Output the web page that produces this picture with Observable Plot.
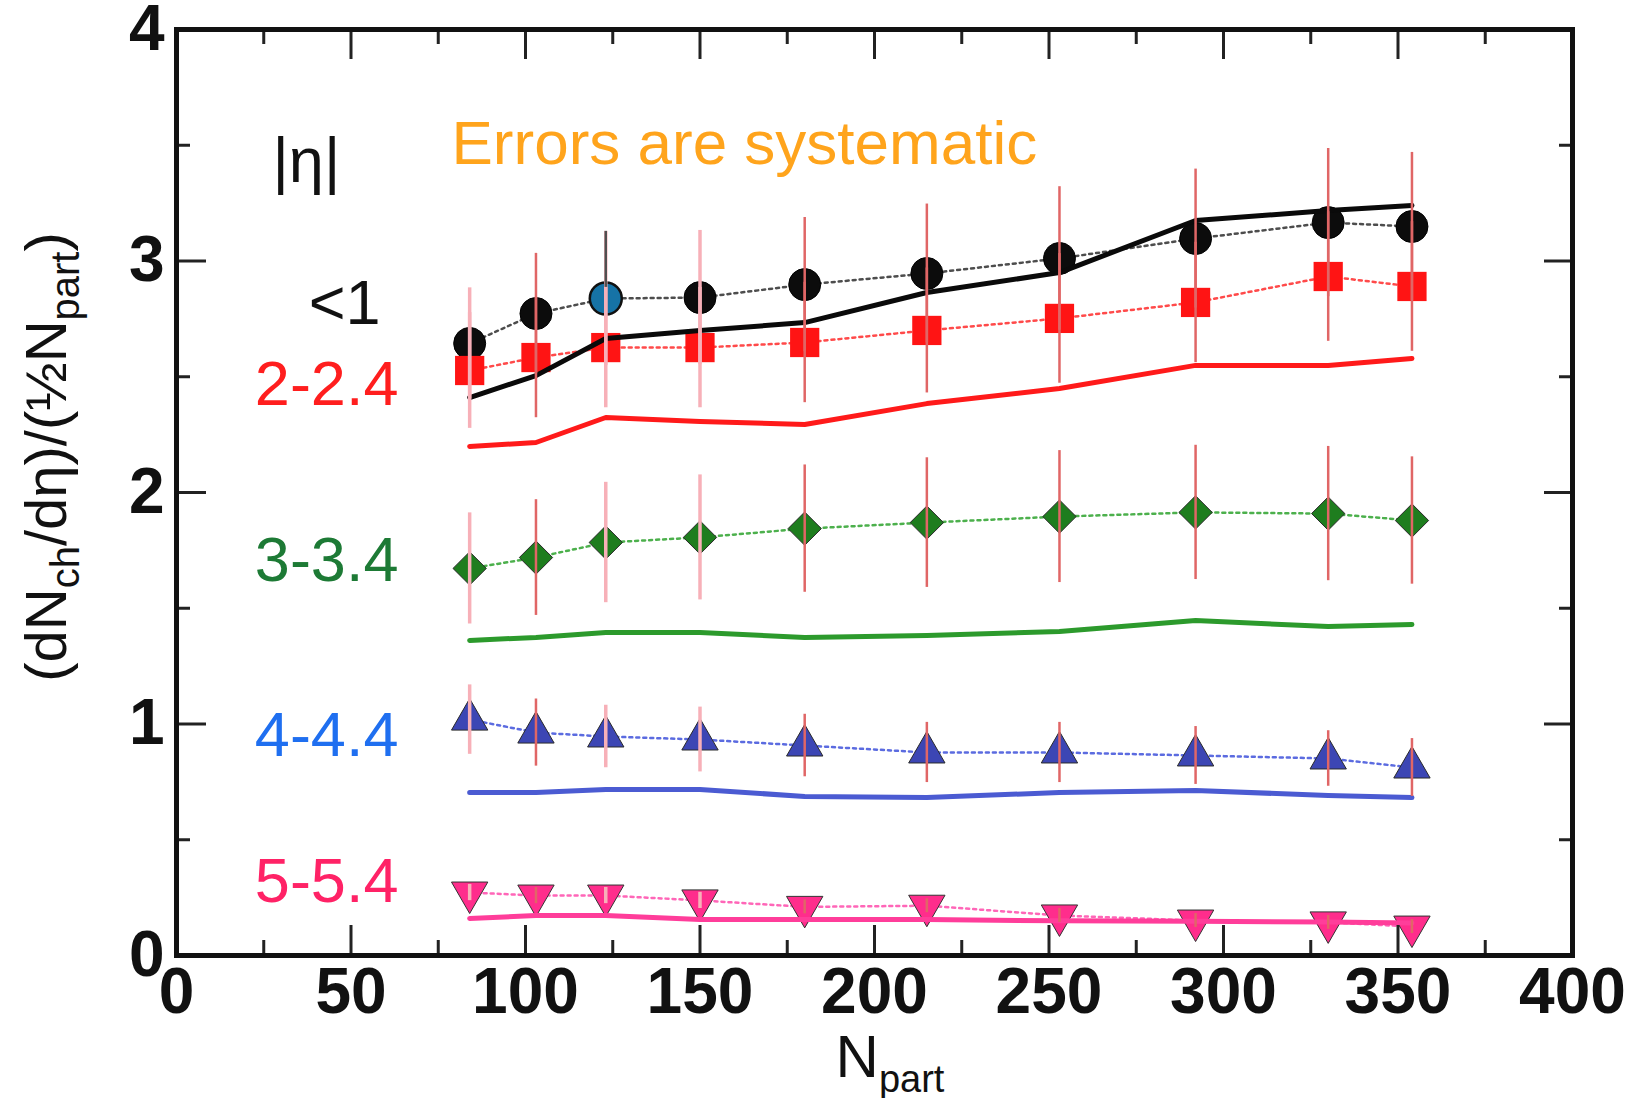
<!DOCTYPE html>
<html>
<head>
<meta charset="utf-8">
<script src="https://cdn.jsdelivr.net/npm/d3@7"></script>
<script src="https://cdn.jsdelivr.net/npm/@observablehq/plot@0.6"></script>
<style>
  html, body { margin: 0; padding: 0; background: #fff; }
  #chart { width: 1636px; height: 1098px; }
</style>
</head>
<body>
<div id="chart"></div>
<script>
// Centrality (number of participants) of each data point
const npart = [84, 103, 123, 150, 180, 215, 253, 292, 330, 354];

// (dNch/dη)/(½Npart) per pseudorapidity window, with systematic errors
const etaLt1    = [2.644, 2.773, 2.838, 2.842, 2.898, 2.946, 3.011, 3.097, 3.166, 3.149];
const etaLt1Err = [0.24, 0.26, 0.29, 0.29, 0.29, 0.30, 0.31, 0.30, 0.32, 0.32];
const eta2      = [2.527, 2.583, 2.626, 2.626, 2.648, 2.700, 2.752, 2.821, 2.933, 2.890];
const eta2Err   = [0.25, 0.26, 0.26, 0.26, 0.26, 0.27, 0.28, 0.26, 0.28, 0.28];
const eta3      = [1.672, 1.719, 1.784, 1.806, 1.844, 1.870, 1.896, 1.914, 1.909, 1.879];
const eta3Err   = [0.24, 0.25, 0.26, 0.27, 0.275, 0.28, 0.285, 0.29, 0.29, 0.275];
const eta4      = [1.019, 0.963, 0.946, 0.933, 0.907, 0.877, 0.877, 0.864, 0.851, 0.812];
const eta4Err   = [0.15, 0.145, 0.135, 0.14, 0.135, 0.13, 0.13, 0.125, 0.12, 0.125];
const eta5      = [0.272, 0.259, 0.259, 0.238, 0.210, 0.215, 0.173, 0.151, 0.143, 0.125];
const eta5Err   = [0.035, 0.035, 0.035, 0.035, 0.03, 0.03, 0.03, 0.03, 0.03, 0.03];

// Model curves at the same centralities
const modelLt1 = [2.41, 2.505, 2.665, 2.70, 2.734, 2.864, 2.950, 3.175, 3.218, 3.240];
const model2   = [2.199, 2.216, 2.324, 2.307, 2.294, 2.384, 2.449, 2.549, 2.549, 2.579];
const model3   = [1.361, 1.374, 1.395, 1.395, 1.374, 1.382, 1.400, 1.447, 1.421, 1.430];
const model4   = [0.704, 0.704, 0.717, 0.717, 0.687, 0.682, 0.704, 0.713, 0.691, 0.682];
const model5   = [0.160, 0.173, 0.173, 0.155, 0.155, 0.155, 0.150, 0.148, 0.145, 0.140];

// Axis ticks
const xTicks = [0, 50, 100, 150, 200, 250, 300, 350, 400];
const xMinor = [25, 75, 125, 175, 225, 275, 325, 375];
const yTicks = [0, 1, 2, 3, 4];
const yMinor = [0.5, 1.5, 2.5, 3.5];

// Point drawn with a distinct fill in the |η|<1 series
const highlightNpart = 123;
// Centralities whose error bars are drawn in the lighter tint
const paleBars = new Set([84, 123, 150]);

const groups = [
  {id: "lt1", y: etaLt1, err: etaLt1Err, model: modelLt1},
  {id: "e2",  y: eta2,   err: eta2Err,   model: model2},
  {id: "e3",  y: eta3,   err: eta3Err,   model: model3},
  {id: "e4",  y: eta4,   err: eta4Err,   model: model4},
  {id: "e5",  y: eta5,   err: eta5Err,   model: model5}
];

const look = {
  lt1: {fill: "#0c0c0c", stroke: "#000", sw: 1, symbol: "circle", r: 16, rotate: 0, dash: "#4d4d4d", line: "#0a0a0a"},
  e2:  {fill: "#ff1414", stroke: "none", sw: 0, symbol: "square", r: 16.5, rotate: 0, dash: "#ff4a4a", line: "#ff1a1a"},
  e3:  {fill: "#1e7d1e", stroke: "#2a2a2a", sw: 1, symbol: "diamond2", r: 15, rotate: 0, dash: "#4cb04c", line: "#2c9a2c"},
  e4:  {fill: "#3c46b4", stroke: "#2a2a2a", sw: 1, symbol: "triangle", r: 13.5, rotate: 0, dash: "#5b6be0", line: "#4b5bd2"},
  e5:  {fill: "#ff2d8c", stroke: "#333", sw: 1, symbol: "triangle", r: 13.5, rotate: 180, dash: "#ff66b8", line: "#ff3d9a"}
};

const rowsOf = g => npart.map((x, i) => ({
  x, y: g.y[i], lo: g.y[i] - g.err[i], hi: g.y[i] + g.err[i], m: g.model[i]
}));

const W = 1636, H = 1098;
const mL = 176, mR = 64, mT = 29, mB = 143;
const innerW = W - mL - mR, innerH = H - mT - mB;

const connectors = [], markers = [], models = [], bars = [];
for (const g of groups) {
  const s = look[g.id];
  const rows = rowsOf(g);
  connectors.push(Plot.line(rows, {x: "x", y: "y", stroke: s.dash, strokeWidth: 2.5, strokeDasharray: "3,4"}));
  markers.push(Plot.dot(rows, {x: "x", y: "y", symbol: s.symbol, r: s.r, rotate: s.rotate,
    fill: s.fill, stroke: s.stroke, strokeWidth: s.sw}));
  if (g.id === "lt1") {
    markers.push(Plot.dot(rows, {filter: d => d.x === highlightNpart, x: "x", y: "y", symbol: "circle", r: 16,
      fill: "#1673a6", stroke: "#111", strokeWidth: 2.5}));
  }
  models.push(Plot.line(rows, {x: "x", y: "m", stroke: s.line, strokeWidth: 5}));
  bars.push(Plot.ruleX(rows, {filter: d => paleBars.has(d.x), x: "x", y1: "lo", y2: "hi", stroke: "#f7b0b8", strokeWidth: 3.5}));
  bars.push(Plot.ruleX(rows, {filter: d => !paleBars.has(d.x), x: "x", y1: "lo", y2: "hi", stroke: "#e06666", strokeWidth: 2.5}));
  if (g.id === "lt1") {
    bars.push(Plot.ruleX(rows, {filter: d => d.x === highlightNpart, x: "x", y1: "lo", y2: "hi", stroke: "#505050", strokeWidth: 2.5}));
  }
}

const labelFont = {fontSize: 63, lineAnchor: "bottom"};

const svg = Plot.plot({
  width: W, height: H,
  marginLeft: mL, marginRight: mR, marginTop: mT, marginBottom: mB,
  x: {domain: [0, 400]},
  y: {domain: [0, 4]},
  style: {fontFamily: "'Liberation Sans', Arial, Helvetica, sans-serif", background: "#fff", color: "#111", overflow: "visible"},
  marks: [
    ...connectors,
    ...markers,
    ...models,
    ...bars,
    // inward ticks on all four sides
    Plot.tickX(xTicks, {x: d => d, insetTop: innerH - 30, stroke: "#222", strokeWidth: 3}),
    Plot.tickX(xMinor, {x: d => d, insetTop: innerH - 15, stroke: "#222", strokeWidth: 3}),
    Plot.tickX(xTicks, {x: d => d, insetBottom: innerH - 30, stroke: "#222", strokeWidth: 3}),
    Plot.tickX(xMinor, {x: d => d, insetBottom: innerH - 15, stroke: "#222", strokeWidth: 3}),
    Plot.tickY(yTicks, {y: d => d, insetRight: innerW - 30, stroke: "#222", strokeWidth: 3}),
    Plot.tickY(yMinor, {y: d => d, insetRight: innerW - 14, stroke: "#222", strokeWidth: 3}),
    Plot.tickY(yTicks, {y: d => d, insetLeft: innerW - 28, stroke: "#222", strokeWidth: 3}),
    Plot.tickY(yMinor, {y: d => d, insetLeft: innerW - 13, stroke: "#222", strokeWidth: 3}),
    Plot.frame({stroke: "#111", strokeWidth: 5}),
    Plot.axisX(xTicks, {tickSize: 0, tickPadding: 12, tickFormat: d => String(d), fontSize: 64, fontWeight: "bold", fill: "#111", label: null}),
    Plot.axisY(yTicks, {tickSize: 0, tickPadding: 12, tickFormat: d => String(d), fontSize: 64, fontWeight: "bold", fill: "#111", label: null}),
    // window labels
    Plot.text(["|η|"], {x: 27.5, y: 3.34, text: d => d, textAnchor: "start", fill: "#111", ...labelFont}),
    Plot.text(["Errors are systematic"], {x: 78.8, y: 3.417, text: d => d, textAnchor: "start", fill: "#ffa41c", fontSize: 62, lineAnchor: "bottom"}),
    Plot.text(["<1"], {x: 58.5, y: 2.73, text: d => d, textAnchor: "end", fill: "#111", ...labelFont}),
    Plot.text(["2-2.4"], {x: 63.6, y: 2.376, text: d => d, textAnchor: "end", fill: "#ff1e1e", ...labelFont}),
    Plot.text(["3-3.4"], {x: 63.6, y: 1.616, text: d => d, textAnchor: "end", fill: "#1d7a35", ...labelFont}),
    Plot.text(["4-4.4"], {x: 63.6, y: 0.86, text: d => d, textAnchor: "end", fill: "#1f6ff0", ...labelFont}),
    Plot.text(["5-5.4"], {x: 63.6, y: 0.229, text: d => d, textAnchor: "end", fill: "#ff2266", ...labelFont})
  ]
});

// Axis titles with subscripts
const root = d3.select(svg);
const yt = root.append("text")
  .attr("transform", "translate(66,457) rotate(-90)")
  .attr("text-anchor", "middle")
  .attr("fill", "#111")
  .style("font-family", "'Liberation Sans', Arial, sans-serif")
  .style("font-size", "58px");
yt.append("tspan").text("(dN");
yt.append("tspan").attr("dy", 13).style("font-size", "40px").text("ch");
yt.append("tspan").attr("dy", -13).text("/dη)/(½N");
yt.append("tspan").attr("dy", 13).style("font-size", "40px").text("part");
yt.append("tspan").attr("dy", -13).text(")");

const xt = root.append("text")
  .attr("x", 890).attr("y", 1077)
  .attr("text-anchor", "middle")
  .attr("fill", "#111")
  .style("font-family", "'Liberation Sans', Arial, sans-serif")
  .style("font-size", "60px");
xt.append("tspan").text("N");
xt.append("tspan").attr("dy", 15).style("font-size", "38px").text("part");

document.getElementById("chart").appendChild(svg);
</script>
</body>
</html>
